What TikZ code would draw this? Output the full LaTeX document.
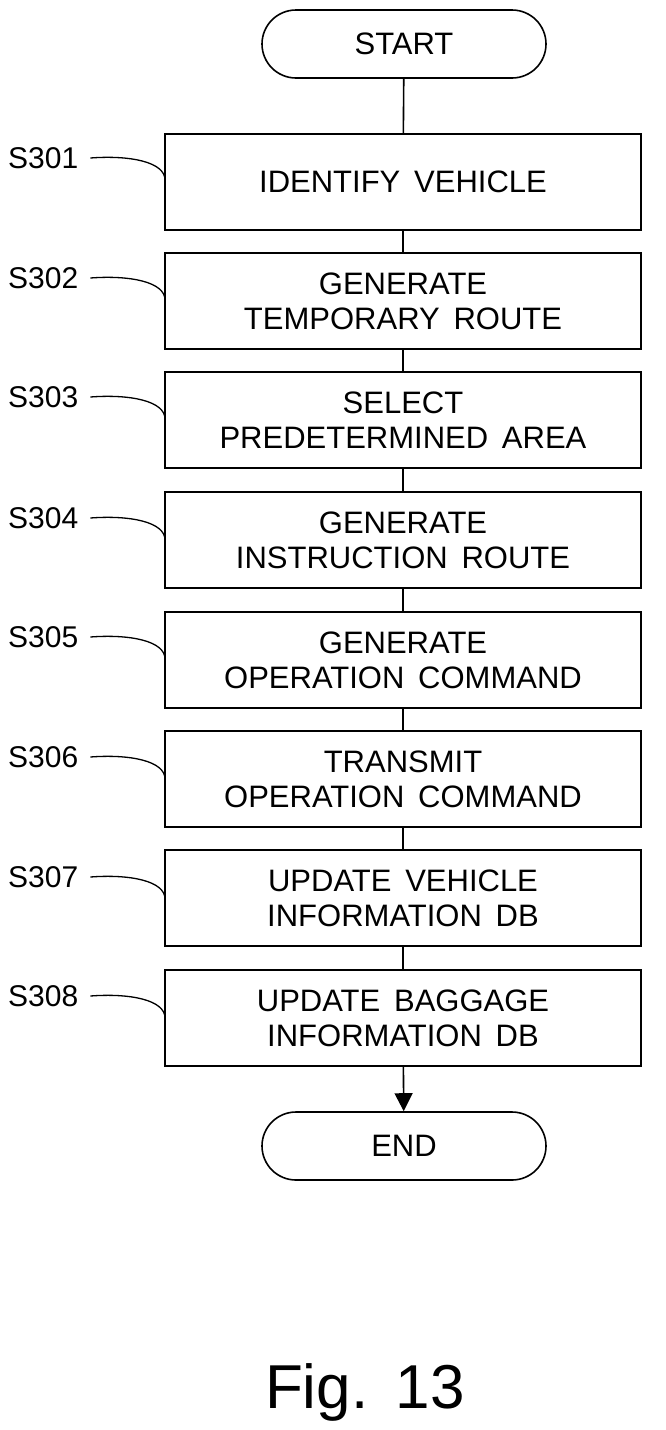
\documentclass[tikz,border=0pt]{standalone}
\usepackage{fontspec}
\setmainfont{Liberation Sans}[WordSpace={1.6}]
\usetikzlibrary{shapes.geometric,arrows.meta}
\begin{document}
\begin{tikzpicture}[x=1pt,y=-1pt,line width=1.6pt,
  box/.style={draw,minimum width=476pt,minimum height=96pt,align=center,font=\fontsize{31}{35}\selectfont},
  term/.style={draw,rounded rectangle,minimum width=284pt,minimum height=68pt,font=\fontsize{31}{35}\selectfont},
  lab/.style={font=\fontsize{30}{34}\selectfont,anchor=west},
  lead/.style={line width=1.3pt}]
\useasboundingbox (0,0) rectangle (666,1430);
\tikzset{rounded rectangle/.style={rounded corners=34pt}}
\node[term] (start) at (404,44) {START};
\node[box] (b1) at (403,182) {IDENTIFY VEHICLE};
\node[box] (b2) at (403,301) {GENERATE\\TEMPORARY ROUTE};
\node[box] (b3) at (403,420) {SELECT\\PREDETERMINED AREA};
\node[box] (b4) at (403,540) {GENERATE\\INSTRUCTION ROUTE};
\node[box] (b5) at (403,660) {GENERATE\\OPERATION COMMAND};
\node[box] (b6) at (403,779) {TRANSMIT\\OPERATION COMMAND};
\node[box] (b7) at (403,898) {UPDATE VEHICLE\\INFORMATION DB};
\node[box] (b8) at (403,1018) {UPDATE BAGGAGE\\INFORMATION DB};
\node[term] (end) at (404,1146) {END};
\draw (start) -- (b1);
\draw (b1) -- (b2); \draw (b2) -- (b3); \draw (b3) -- (b4);
\draw (b4) -- (b5); \draw (b5) -- (b6); \draw (b6) -- (b7); \draw (b7) -- (b8);
\draw[-{Triangle[length=18pt,width=18pt]}] (b8) -- (end);
\foreach \i/\y in {1/158,2/278,3/397,4/518,5/637,6/757,7/877,8/996}{
  \node[lab] (s\i) at (4,\y) {S30\i};
  \coordinate (c\i) at (165,\y+22);
  \draw[lead] (s\i.east) ++(8,0) .. controls +(40,-3) and +(0,-18) .. (c\i);
}
\node[font=\fontsize{62}{70}\selectfont] (fig) at (365,1392) {Fig.\ 13};
\end{tikzpicture}
\end{document}
